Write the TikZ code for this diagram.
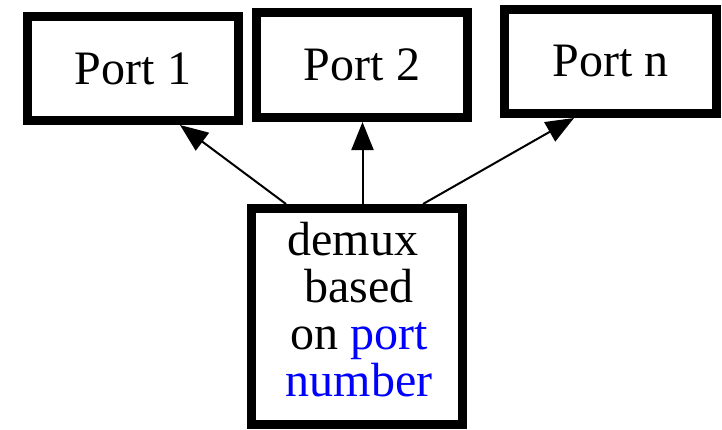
\documentclass[tikz,border=0pt]{standalone}
\usepackage{fontspec}
\setmainfont{Liberation Serif}
\usetikzlibrary{arrows.meta}
\definecolor{portblue}{RGB}{0,0,255}
\begin{document}
\begin{tikzpicture}[x=1pt,y=-1pt,
  portbox/.style={draw, line width=9pt, rectangle, inner sep=0pt, outer sep=4.5pt,
    minimum width=211pt, minimum height=104pt, font=\fontsize{48}{47}\selectfont},
  conn/.style={line width=2pt, -{Triangle[length=28pt,width=22pt]}}]
\useasboundingbox (0,0) rectangle (722,429);
\node[portbox] (p1) at (133,68.5) {Port 1};
\node[portbox, minimum height=105pt] (p2) at (362,65) {Port 2};
\node[portbox, minimum width=212pt] (pn) at (610.5,61.5) {Port n};
\node[portbox, minimum height=215.5pt] (demux) at (357,316.25) {};
\node[align=center, inner sep=0pt, font=\fontsize{48}{47}\selectfont]
  (dtext) at ([xshift=2pt,yshift=6.75pt]demux.center)
  {demux\kern12pt\\based\\on \textcolor{portblue}{port}\\\textcolor{portblue}{number}};
\draw[conn] ([xshift=-71pt]demux.north) -- ([xshift=47pt]p1.south);
\draw[conn] ([xshift=5.5pt]demux.north) -- ([xshift=0.5pt]p2.south);
\draw[conn] ([xshift=66pt]demux.north) -- ([xshift=-36.5pt]pn.south);
\end{tikzpicture}
\end{document}
